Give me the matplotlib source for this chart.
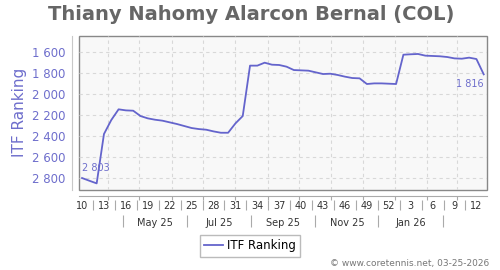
import matplotlib
matplotlib.use("Agg")
import matplotlib.pyplot as plt
import matplotlib.dates as mdates
from matplotlib.ticker import FixedLocator, FixedFormatter, FuncFormatter, NullFormatter
import pandas as pd

# weekly ITF ranking (one point per week, first week = wk 10 of 2025)
start_date = "2025-03-07"
ranks = [2803, 2829, 2854, 2384, 2251, 2149, 2159, 2162, 2213, 2235,
         2248, 2257, 2273, 2289, 2308, 2327, 2337, 2343, 2359, 2372,
         2372, 2283, 2213, 1733, 1733, 1705, 1724, 1727, 1743, 1775,
         1778, 1781, 1797, 1813, 1810, 1822, 1838, 1851, 1854, 1908,
         1902, 1902, 1905, 1908, 1629, 1625, 1622, 1638, 1641, 1644,
         1651, 1664, 1667, 1657, 1670, 1816]
dates = pd.date_range(start_date, periods=len(ranks), freq="7D")

week_labels = ["10", "13", "16", "19", "22", "25", "28", "31", "34", "37",
               "40", "43", "46", "49", "52", "3", "6", "9", "12"]
month_labels = ["May 25", "Jul 25", "Sep 25", "Nov 25", "Jan 26"]
month_label_dates = pd.to_datetime(["2025-05-16", "2025-07-16", "2025-09-16",
                                    "2025-11-16", "2026-01-16"])
month_sep_dates = pd.to_datetime(["2025-04-15", "2025-06-16", "2025-08-16",
                                  "2025-10-16", "2025-12-16", "2026-02-16"])
grid_dates = pd.date_range("2025-04-01", "2026-03-01", freq="MS")

LINE = "#6464cc"
LBL = "#6e6ecc"
GRAY = "#aaaaaa"

fig = plt.figure(figsize=(5, 2.7), dpi=100)
ax = fig.add_axes([0.157, 0.2963, 0.8174, 0.5715])
ax.patch.set_facecolor("#f8f8f8")
ax.patch.set_edgecolor("#888888")
ax.patch.set_linewidth(1.0)

ax.plot(dates, ranks, color=LINE, lw=1.3, zorder=3)

ax.set_xlim(pd.Timestamp("2025-03-03 14:00"), pd.Timestamp("2026-03-30 08:00"))
ax.set_ylim(2917, 1448)

# y axis
ax.set_yticks([1600, 1800, 2000, 2200, 2400, 2600, 2800])
ax.yaxis.set_major_formatter(FuncFormatter(lambda v, p: f"{v:,.0f}".replace(",", " ")))
ax.tick_params(axis="y", length=0, pad=4.5, labelsize=8.5, labelcolor=LBL)
ax.set_ylabel("ITF Ranking", color=LBL, fontsize=11)
ax.yaxis.set_label_coords(-0.125, 0.5)

for s in ("top", "right"):
    ax.spines[s].set_visible(False)
ax.spines["left"].set_position(("outward", 5))
ax.spines["left"].set_color("#c8c8c8")
ax.spines["bottom"].set_position(("outward", 4))
ax.spines["bottom"].set_color(GRAY)

# x: monthly grid ticks (major), week labels (minor)
x_dates = mdates.date2num(dates)
ax.xaxis.remove_overlapping_locs = False
ax.xaxis.set_major_locator(FixedLocator(mdates.date2num(grid_dates)))
ax.xaxis.set_major_formatter(NullFormatter())
ax.xaxis.set_minor_locator(FixedLocator(x_dates[::3]))
ax.xaxis.set_minor_formatter(FixedFormatter(week_labels))
ax.tick_params(axis="x", which="major", length=3, color=GRAY, direction="out")
ax.tick_params(axis="x", which="minor", length=0, pad=4, labelsize=7, labelcolor="#333333")

ax.grid(True, which="major", color="#d8d8d8", lw=0.8, ls=(0, (3, 3)))
ax.set_axisbelow(True)

# separators between week labels
ax_h = 154.3
sec_w = ax.secondary_xaxis(-10 / ax_h)
sec_w.spines["bottom"].set_visible(False)
sep_w = (x_dates[1:-1:3] + x_dates[2::3]) / 2
sec_w.set_xticks(sep_w)
sec_w.tick_params(axis="x", length=7, width=0.8, color=GRAY, labelbottom=False)

# month row
sec_m = ax.secondary_xaxis(-25 / ax_h)
sec_m.spines["bottom"].set_visible(False)
sec_m.xaxis.remove_overlapping_locs = False
sec_m.set_xticks(mdates.date2num(month_sep_dates))
sec_m.set_xticks(mdates.date2num(month_label_dates), labels=month_labels, minor=True)
sec_m.tick_params(axis="x", which="major", length=8.5, width=0.8, color=GRAY, labelbottom=False)
sec_m.tick_params(axis="x", which="minor", length=0, pad=2, labelsize=7, labelcolor="#333333")

# first / last values
ax.annotate(f"{ranks[0]:,}".replace(",", " "), (dates[0], ranks[0]),
            xytext=(0, 5), textcoords="offset pixels", ha="left", va="bottom",
            fontsize=7, color=LBL)
ax.annotate(f"{ranks[-1]:,}".replace(",", " "), (dates[-1], ranks[-1]),
            xytext=(0, -5), textcoords="offset pixels", ha="right", va="top",
            fontsize=7, color=LBL)

fig.suptitle("Thiany Nahomy Alarcon Bernal (COL)", x=0.502, y=0.948, va="center",
             fontsize=14, fontweight="bold", color="#666666")

fig.legend([ax.lines[0]], ["ITF Ranking"], loc="center", bbox_to_anchor=(0.5, 0.089),
           fontsize=8.5, frameon=True, fancybox=False, edgecolor="#aaaaaa",
           handlelength=1.6, handletextpad=0.4, borderpad=0.35, borderaxespad=0)

fig.text(0.978, 0.025, "© www.coretennis.net, 03-25-2026", ha="right", va="center",
         fontsize=6.5, color="#777777")

fig.savefig("out.png", dpi=100)
